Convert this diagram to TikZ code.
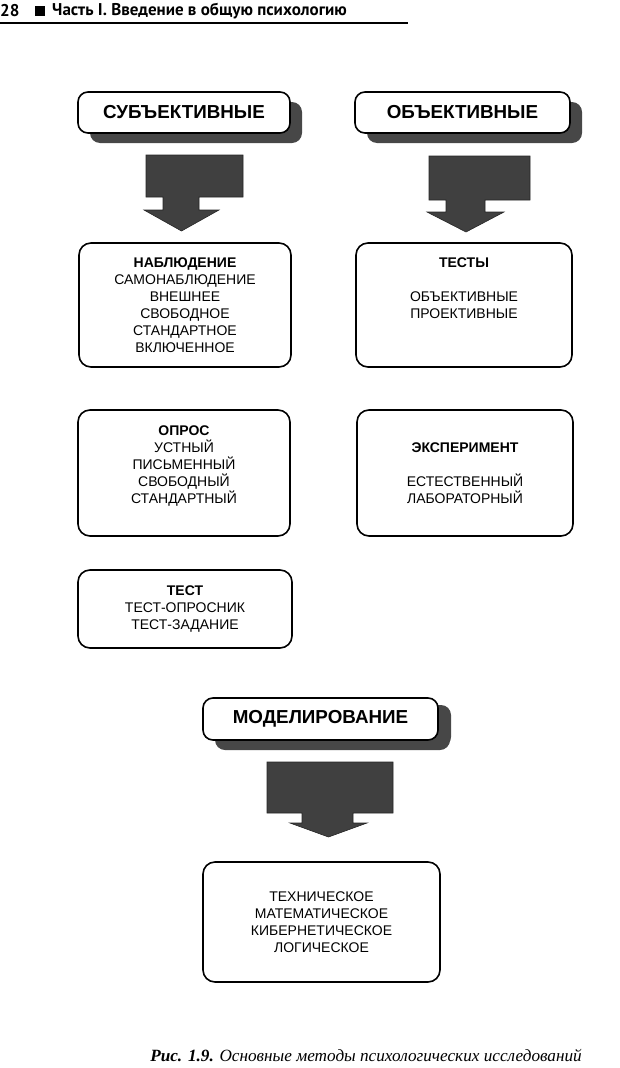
\documentclass[tikz,border=0pt]{standalone}
\usepackage{fontspec}
\setmainfont{Liberation Sans}
\newfontfamily\headfont{PT Sans}
\newfontfamily\capfont{Liberation Serif}
\usetikzlibrary{shadows}

\tikzset{
  labelbox/.style={draw, line width=1.6pt, rounded corners=10pt, fill=white,
    minimum height=41pt, inner sep=0pt,
    font=\fontsize{18.8}{21}\selectfont\bfseries,
    drop shadow={shadow xshift=12pt, shadow yshift=-10pt, fill=black!72, opacity=1}},
  methodbox/.style={draw, line width=1.6pt, rounded corners=12pt, align=center,
    inner sep=0pt, font=\fontsize{14}{17}\selectfont},
  blockarrow/.style={fill=black!75, draw=black!85, line width=0.6pt},
}

\begin{document}
\begin{tikzpicture}[x=1pt, y=-1pt]
	\useasboundingbox (0,0) rectangle (620,1068);

	% Page header
	\node[anchor=west, inner sep=0pt, font=\headfont\fontsize{17}{18}\selectfont\bfseries] (pagenum) at (0,11) {28};
	\node[fill=black, inner sep=0pt, minimum size=10pt] (headmark) at (40,11) {};
	\node[anchor=west, inner sep=0pt, font=\headfont\fontsize{17}{18}\selectfont\bfseries] (headtitle) at (52,11) {Часть I. Введение в общую психологию};
	\draw[line width=1.3pt] (0,23) -- (408,23);

	% Label boxes
	\node[labelbox, minimum width=212pt] (subj) at (184,112.5) {СУБЪЕКТИВНЫЕ};
	\node[labelbox, minimum width=215pt] (obj) at (462.5,112.5) {ОБЪЕКТИВНЫЕ};
	\node[labelbox, minimum width=235pt, minimum height=42pt,
		drop shadow={shadow xshift=13pt, shadow yshift=-7pt, fill=black!72, opacity=1}] (model) at (320.5,719) {МОДЕЛИРОВАНИЕ};

	% Block arrows
	\draw[blockarrow] (146,155) -- (243,155) -- (243,197) -- (199,197) -- (199,210) -- (219,210)
		-- (181.5,231) -- (144,210) -- (163,210) -- (163,197) -- (146,197) -- cycle;
	\draw[blockarrow] (429,156) -- (530,156) -- (530,200) -- (485,200) -- (485,212) -- (504,212)
		-- (466,232) -- (427,212) -- (446,212) -- (446,200) -- (429,200) -- cycle;
	\draw[blockarrow] (267,762) -- (393,762) -- (393,813) -- (353,813) -- (353,823) -- (367,823)
		-- (328.5,837) -- (290,823) -- (302,823) -- (302,813) -- (267,813) -- cycle;

	% Method boxes
	\node[methodbox, minimum width=212pt, minimum height=124pt] (nabl) at (185,305)
		{\textbf{НАБЛЮДЕНИЕ}\\ САМОНАБЛЮДЕНИЕ\\ ВНЕШНЕЕ\\ СВОБОДНОЕ\\ СТАНДАРТНОЕ\\ ВКЛЮЧЕННОЕ};
	\node[methodbox, minimum width=216pt, minimum height=124pt] (tests) at (464,305)
		{\textbf{ТЕСТЫ}\\ \mbox{}\\ ОБЪЕКТИВНЫЕ\\ ПРОЕКТИВНЫЕ\\ \mbox{}\\ \mbox{}};
	\node[methodbox, minimum width=212pt, minimum height=126pt] (opros) at (184,473)
		{\textbf{ОПРОС}\\ УСТНЫЙ\\ ПИСЬМЕННЫЙ\\ СВОБОДНЫЙ\\ СТАНДАРТНЫЙ\\ \mbox{}};
	\node[methodbox, minimum width=216pt, minimum height=126pt] (exper) at (465,473)
		{\textbf{ЭКСПЕРИМЕНТ}\\ \mbox{}\\ ЕСТЕСТВЕННЫЙ\\ ЛАБОРАТОРНЫЙ};
	\node[methodbox, minimum width=214pt, minimum height=78pt] (test) at (185,609)
		{\textbf{ТЕСТ}\\ ТЕСТ-ОПРОСНИК\\ ТЕСТ-ЗАДАНИЕ};
	\node[methodbox, minimum width=237pt, minimum height=120pt] (kinds) at (321.5,922)
		{ТЕХНИЧЕСКОЕ\\ МАТЕМАТИЧЕСКОЕ\\ КИБЕРНЕТИЧЕСКОЕ\\ ЛОГИЧЕСКОЕ};

	% Caption
	\node[anchor=east, inner sep=0pt, font=\capfont\fontsize{17.2}{19}\selectfont\itshape] (caption) at (582,1055)
		{\textbf{Рис. 1.9.} Основные методы психологических исследований};
\end{tikzpicture}
\end{document}
